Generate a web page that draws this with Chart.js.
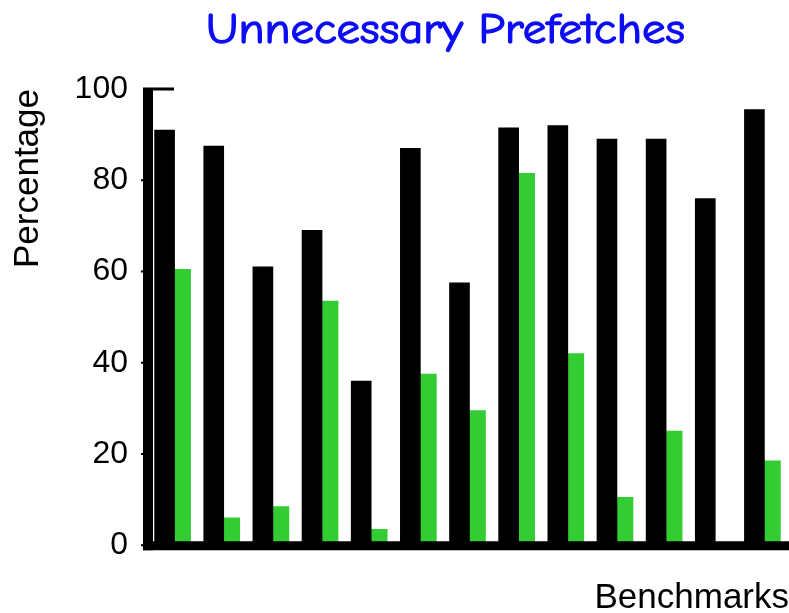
<!DOCTYPE html>
<html>
<head>
<meta charset="utf-8">
<script src="https://cdn.jsdelivr.net/npm/chart.js@4.4.1/dist/chart.umd.min.js"></script>
<style>
    html, body { margin: 0; padding: 0; background: #fff; }
    #wrap { width: 789px; height: 613px; }
</style>
</head>
<body>
<div id="wrap"><canvas id="myChart"></canvas></div>
<script>
// Data
const benchmarks = ['B1', 'B2', 'B3', 'B4', 'B5', 'B6', 'B7', 'B8', 'B9', 'B10', 'B11', 'B12', 'B13'];
const blackSeries = [91, 87.5, 61, 69, 36, 87, 57.5, 91.5, 92, 89, 89, 76, 95.5];
const greenSeries = [60.5, 6, 8.5, 53.5, 3.5, 37.5, 29.5, 81.5, 42, 10.5, 25, 0, 18.5];
const yTicks = [0, 20, 40, 60, 80, 100];

const titleText = 'Unnecessary Prefetches';
const sansFont = '"Liberation Sans", Arial, sans-serif';

// Thick axes + title drawn on top
const axesPlugin = {
    id: 'axesPlugin',
    afterDatasetsDraw(chart) {
        const { ctx, chartArea: a, scales } = chart;
        const y = scales.y;
        ctx.save();
        ctx.fillStyle = '#000';
        // y axis
        ctx.fillRect(a.left - 7, y.getPixelForValue(100) - 1, 10, a.bottom - y.getPixelForValue(100) + 6);
        // x axis
        ctx.fillRect(a.left - 7, a.bottom - 4, a.right - a.left + 7, 9);
        // top tick
        ctx.fillRect(a.left - 7, y.getPixelForValue(100) - 1.5, 31, 3);
        // small tick marks
        yTicks.slice(0, -1).forEach(v => {
            ctx.fillRect(a.left - 9, y.getPixelForValue(v) - 1, 4, 2);
        });
        ctx.restore();
    },
    afterDraw(chart) {
        const { ctx, width } = chart;
        ctx.save();
        ctx.font = '42px "Comic Sans MS", "Comic Neue", Lato, sans-serif';
        ctx.fillStyle = 'rgb(12, 12, 245)';
        ctx.strokeStyle = 'rgb(12, 12, 245)';
        ctx.lineWidth = 1.3;
        ctx.lineJoin = 'round';
        ctx.textBaseline = 'alphabetic';
        ctx.textAlign = 'center';
        const w = ctx.measureText(titleText).width;
        const target = 479;
        ctx.translate(width * 0.5646, 43);
        ctx.scale(target / w, 1);
        ctx.fillText(titleText, 0, 0);
        ctx.strokeText(titleText, 0, 0);
        ctx.restore();
    }
};

const ctx = document.getElementById('myChart').getContext('2d');
const myChart = new Chart(ctx, {
    type: 'bar',
    data: {
        labels: benchmarks,
        datasets: [{
            label: 'Total',
            data: blackSeries,
            backgroundColor: '#000',
            barThickness: 20
        }, {
            label: 'Unnecessary',
            data: greenSeries,
            backgroundColor: 'rgb(51, 204, 51)',
            barThickness: 16
        }]
    },
    options: {
        responsive: true,
        maintainAspectRatio: false,
        animation: false,
        layout: { padding: { top: 89, left: 0, right: 0, bottom: 0 } },
        plugins: {
            legend: { display: false },
            title: { display: false },
            tooltip: { enabled: false }
        },
        scales: {
            x: {
                grid: { display: false, drawTicks: false },
                border: { display: false },
                ticks: { display: false },
                title: {
                    display: true,
                    text: 'Benchmarks',
                    align: 'end',
                    color: '#000',
                    font: { family: sansFont, size: 35, lineHeight: 0.85 },
                    padding: { top: 38, bottom: 0 }
                }
            },
            y: {
                min: 0,
                max: 100,
                afterBuildTicks: s => { s.ticks = yTicks.map(v => ({ value: v })); },
                afterFit: s => { s.width = 150; },
                grid: { display: false, drawTicks: false },
                border: { display: false },
                ticks: {
                    color: '#000',
                    padding: 22,
                    font: { family: sansFont, size: 32 }
                },
                title: {
                    display: true,
                    text: 'Percentage',
                    align: 'end',
                    color: '#000',
                    font: { family: sansFont, size: 35 },
                    padding: { top: 7, bottom: 0 }
                }
            }
        }
    },
    plugins: [axesPlugin]
});
</script>
</body>
</html>
